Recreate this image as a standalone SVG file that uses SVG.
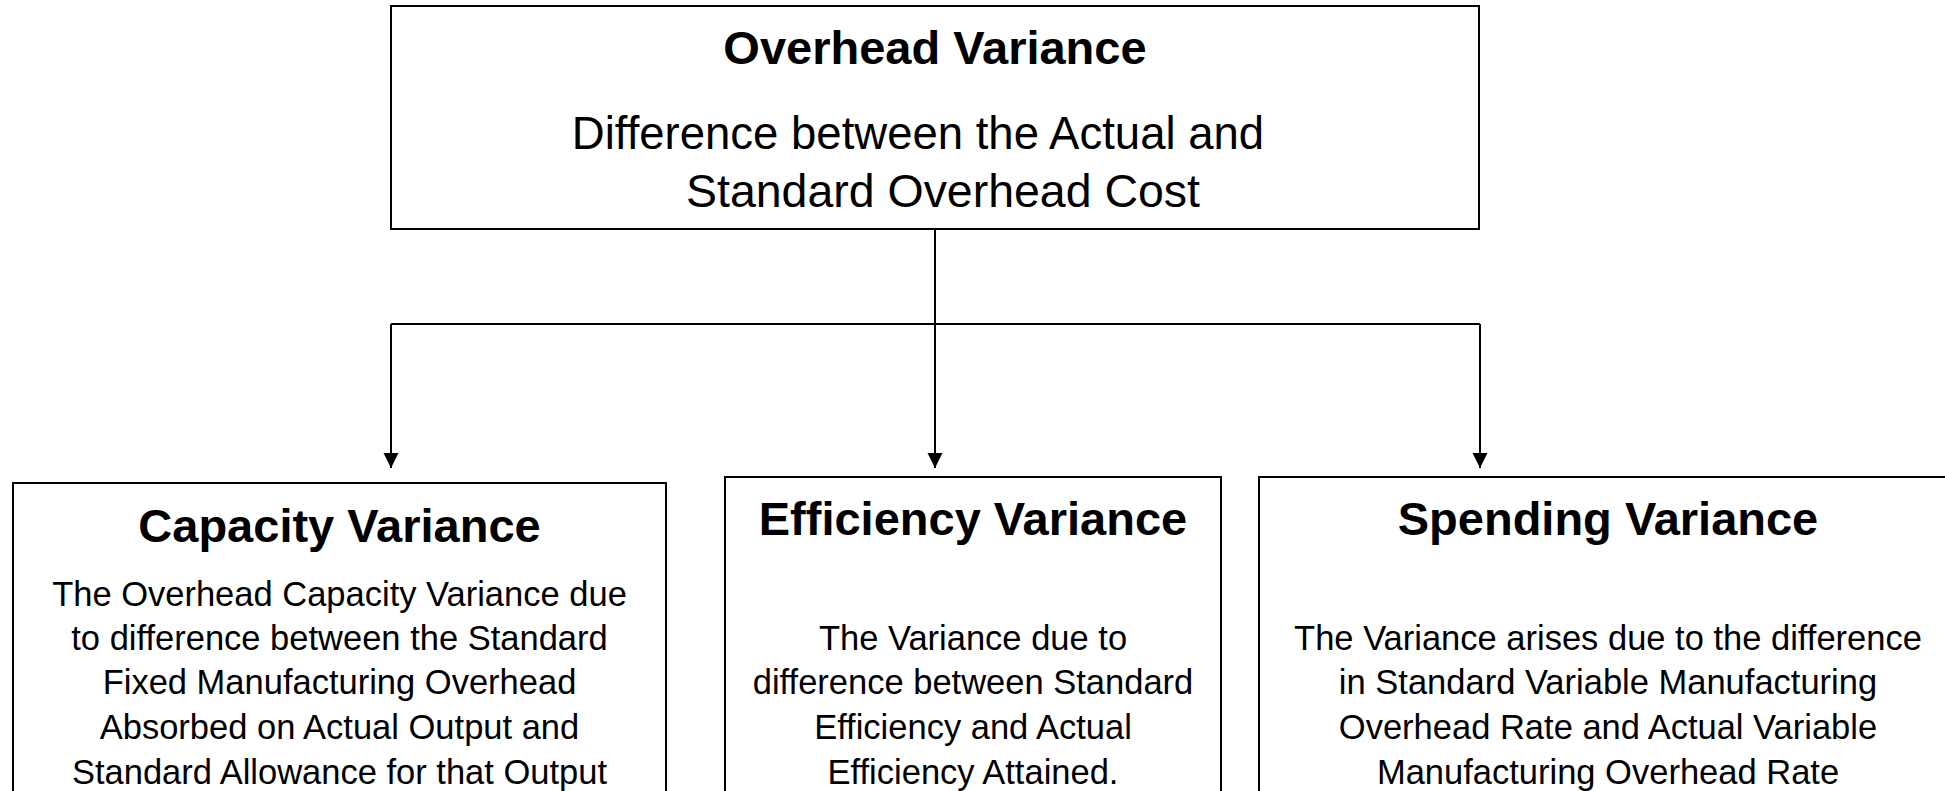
<svg xmlns="http://www.w3.org/2000/svg" width="1945" height="791" viewBox="0 0 1945 791">
<style>
.box{fill:#fff;stroke:#000;stroke-width:2}
.t{font-family:"Liberation Sans",Arial,sans-serif;fill:#000;text-anchor:middle}
.h{font-weight:bold;font-size:47px}
.b{font-size:45.5px}
.s{font-size:34.5px}
.c{fill:none;stroke:#000;stroke-width:2}
</style>
<defs>
<marker id="arr" markerUnits="userSpaceOnUse" markerWidth="16" markerHeight="16" refX="15" refY="7.5" orient="auto">
<path d="M0,0 L15,7.5 L0,15 z" fill="#000"/>
</marker>
</defs>
<rect width="1945" height="791" fill="#fff"/>
<g id="connectors">
<path class="c" d="M935,229 V324"/>
<path class="c" d="M391,324 H1480"/>
<path class="c" d="M391,324 V468" marker-end="url(#arr)"/>
<path class="c" d="M935,324 V468" marker-end="url(#arr)"/>
<path class="c" d="M1480,324 V468" marker-end="url(#arr)"/>
</g>
<g id="overhead">
<rect class="box" x="391" y="6" width="1088" height="223"/>
<text class="t h" x="935" y="64">Overhead Variance</text>
<text class="t b" x="918" y="149">Difference between the Actual and</text>
<text class="t b" x="943" y="207" textLength="514" lengthAdjust="spacingAndGlyphs">Standard Overhead Cost</text>
</g>
<g id="capacity">
<rect class="box" x="13" y="483" width="653" height="320"/>
<text class="t h" x="339.5" y="542">Capacity Variance</text>
<text class="t s" x="339.5" y="606">The Overhead Capacity Variance due</text>
<text class="t s" x="339.5" y="650">to difference between the Standard</text>
<text class="t s" x="339.5" y="694">Fixed Manufacturing Overhead</text>
<text class="t s" x="339.5" y="739">Absorbed on Actual Output and</text>
<text class="t s" x="339.5" y="784">Standard Allowance for that Output</text>
</g>
<g id="efficiency">
<rect class="box" x="725" y="477" width="496" height="330"/>
<text class="t h" x="973" y="535">Efficiency Variance</text>
<text class="t s" x="973" y="650">The Variance due to</text>
<text class="t s" x="973" y="694">difference between Standard</text>
<text class="t s" x="973" y="739">Efficiency and Actual</text>
<text class="t s" x="973" y="784">Efficiency Attained.</text>
</g>
<g id="spending">
<rect class="box" x="1259" y="477" width="700" height="330"/>
<text class="t h" x="1608" y="535">Spending Variance</text>
<text class="t s" x="1608" y="650">The Variance arises due to the difference</text>
<text class="t s" x="1608" y="694">in Standard Variable Manufacturing</text>
<text class="t s" x="1608" y="739">Overhead Rate and Actual Variable</text>
<text class="t s" x="1608" y="784">Manufacturing Overhead  Rate</text>
</g>
</svg>
